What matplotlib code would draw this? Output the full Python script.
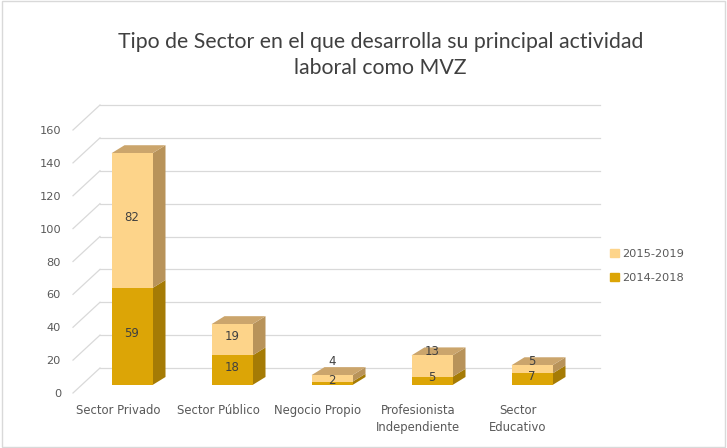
import matplotlib
matplotlib.use('Agg')
import matplotlib.pyplot as plt
from matplotlib.patches import Polygon, Patch, Rectangle
import numpy as np

categories = ['Sector Privado', 'Sector Público', 'Negocio Propio',
              'Profesionista\nIndependiente', 'Sector\nEducativo']
serie_2014 = [59, 18, 2, 5, 7]
serie_2015 = [82, 19, 4, 13, 5]
y_ticks = [0, 20, 40, 60, 80, 100, 120, 140, 160]

c_dark = '#DCA506'
c_dark_side = '#A57B05'
c_light = '#FDD48A'
c_light_side = '#B8935A'
c_light_top = '#CBA56C'
c_text = '#595959'
c_grid = '#D9D9D9'

fig = plt.figure(figsize=(7.27, 4.48), dpi=100)
ax = fig.add_axes([68 / 727, 55 / 448, 500 / 727, 263 / 448])
ax.set_xlim(-0.5, 4.5)
ax.set_ylim(0, 160)

# pixel -> data helpers
px_x = 5 / 500
px_y = 160 / 263
def dx(p):
    return p * px_x
def dy(p):
    return p * px_y

# back wall with perspective
wx, wy = dx(32), dy(25)
for v in y_ticks:
    ax.plot([-0.5 + dx(5), -0.5 + wx], [v, v + wy], color=c_grid, lw=0.9,
            clip_on=False, zorder=0)
    ax.plot([-0.5 + wx, 4.5 + wx], [v + wy, v + wy], color=c_grid, lw=0.9,
            clip_on=False, zorder=0)

# bars
bx, by = dx(14), dy(8)
w = 0.41
ddx, ddy = dx(13), dy(8)
x = np.arange(len(categories))
for i in x:
    xl = i + bx - w / 2
    xr = i + bx + w / 2
    segs = [(0, serie_2014[i], c_dark, c_dark_side),
            (serie_2014[i], serie_2014[i] + serie_2015[i], c_light, c_light_side)]
    for y0, y1, cf, cs in segs:
        y0b, y1b = y0 + by, y1 + by
        ax.add_patch(Polygon([(xr, y0b), (xr + ddx, y0b + ddy), (xr + ddx, y1b + ddy), (xr, y1b)],
                             closed=True, fc=cs, ec='none', clip_on=False, zorder=2))
    top = serie_2014[i] + serie_2015[i] + by
    ax.add_patch(Polygon([(xl, top), (xl + ddx, top + ddy), (xr + ddx, top + ddy), (xr, top)],
                         closed=True, fc=c_light_top, ec='none', clip_on=False, zorder=2))

ax.bar(x + bx, serie_2014, width=w, bottom=by, color=c_dark, zorder=3)
ax.bar(x + bx, serie_2015, width=w, bottom=np.array(serie_2014) + by,
       color=c_light, zorder=3)

# value labels
for i in x:
    d, l = serie_2014[i], serie_2015[i]
    ax.text(i + bx, d / 2 + by + dy(3), str(d), ha='center', va='center',
            fontsize=8.5, color='#404040', family='DejaVu Sans', zorder=5)
    if l >= 15:
        yl = d + l / 2 + by + dy(3)
    else:
        yl = max(d + l, 12) + by + dy(4)
    ax.text(i + bx, yl, str(l), ha='center', va='center',
            fontsize=8.5, color='#404040', family='DejaVu Sans', zorder=5)

ax.set_xticks(x)
ax.set_xticklabels(categories, fontsize=8.4, color=c_text, linespacing=1.35)
ax.set_yticks(y_ticks)
ax.set_yticklabels([str(v) for v in y_ticks], fontsize=8.2, color=c_text)
ax.tick_params(axis='both', length=0)
ax.tick_params(axis='x', pad=8)
ax.tick_params(axis='y', pad=5)
for s in ax.spines.values():
    s.set_visible(False)
ax.patch.set_visible(False)

fig.text(0.523, 0.877, 'Tipo de Sector en el que desarrolla su principal actividad\nlaboral como MVZ',
         ha='center', va='center', fontsize=15.3, color='#404040', family='Lato',
         linespacing=1.4)

handles = [Patch(color=c_light, label='2015-2019'), Patch(color=c_dark, label='2014-2018')]
leg = fig.legend(handles=handles, loc='center left', bbox_to_anchor=(0.825, 0.406),
                 frameon=False, fontsize=8.2, handlelength=0.75, handleheight=0.75,
                 handletextpad=0.3, labelspacing=1.2)
for t in leg.get_texts():
    t.set_color(c_text)

fig.patches.append(Rectangle((0.003, 0.003), 0.994, 0.994, transform=fig.transFigure,
                             fill=False, ec=c_grid, lw=1))

fig.savefig('out.png', dpi=100, facecolor='white')
